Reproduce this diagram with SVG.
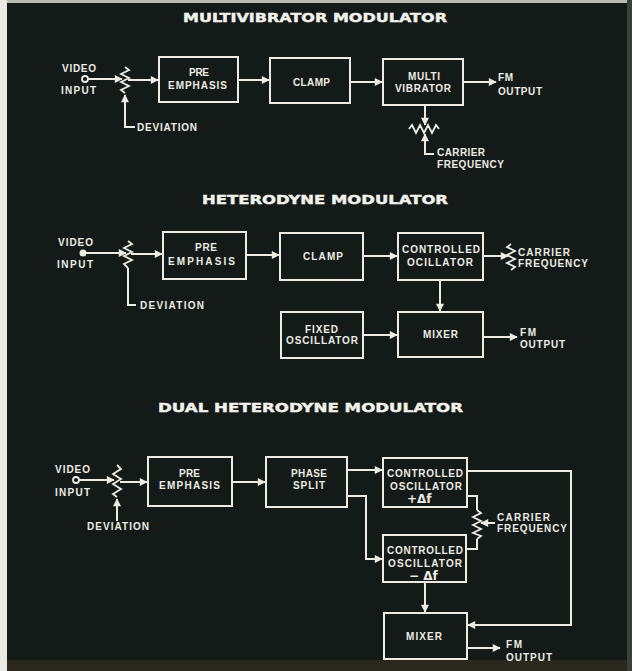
<svg xmlns="http://www.w3.org/2000/svg" width="632" height="671" viewBox="0 0 632 671">
<defs>
<style>
.bg{fill:#141a17}
.box{fill:none;stroke:#ecece4;stroke-width:2}
.ln{fill:none;stroke:#ecece4;stroke-width:2;stroke-linejoin:miter}
.zz{fill:none;stroke:#ecece4;stroke-width:1.8;stroke-linejoin:miter}
.t{font-family:"Liberation Sans",Arial,sans-serif;font-weight:bold;font-size:10px;fill:#ecece4}
.ttl{font-family:"DejaVu Sans","Liberation Sans",sans-serif;font-weight:bold;font-size:11.5px;fill:#f2f2ec;stroke:#f2f2ec;stroke-width:0.4}
.sym{font-family:"DejaVu Sans","Liberation Sans",sans-serif;font-weight:bold;font-size:12px;fill:#ecece4}
</style>
<marker id="ah" viewBox="0 0 10 10" refX="9" refY="5" markerWidth="4.5" markerHeight="4" orient="auto" markerUnits="strokeWidth">
<path d="M0,0 L10,5 L0,10 z" fill="#ecece4"/>
</marker>
</defs>
<rect class="bg" x="0" y="0" width="632" height="671"/>
<rect x="0" y="0" width="632" height="3" fill="#b8bab4"/>
<rect x="0" y="0" width="7" height="671" fill="#e8e8e4"/>
<rect x="627" y="0" width="5" height="671" fill="#3a403a"/>
<rect x="7" y="660" width="620" height="11" fill="#2a281c"/>

<!-- Titles -->
<text class="ttl" x="183" y="22" textLength="264" lengthAdjust="spacingAndGlyphs">MULTIVIBRATOR MODULATOR</text>
<text class="ttl" x="202" y="204" textLength="246" lengthAdjust="spacingAndGlyphs">HETERODYNE MODULATOR</text>
<text class="ttl" x="158" y="412" textLength="305" lengthAdjust="spacingAndGlyphs">DUAL HETERODYNE MODULATOR</text>

<!-- ===== Multivibrator modulator ===== -->
<g id="mv-input">
<text class="t" x="62" y="71.5" textLength="34">VIDEO</text>
<text class="t" x="61" y="94" textLength="35">INPUT</text>
<circle cx="85" cy="79" r="3" fill="none" stroke="#ecece4" stroke-width="1.8"/>
</g>
<g id="mv-deviation">
<polyline class="zz" points="125,67 129,70 121,74 129,78 121,82 129,86 121,90 125,93"/>
<text class="t" x="137" y="131" textLength="60">DEVIATION</text>
</g>
<g id="mv-pre">
<rect class="box" x="159" y="57" width="79" height="45"/>
<text class="t" x="189" y="76" textLength="20">PRE</text>
<text class="t" x="168" y="89" textLength="59">EMPHASIS</text>
</g>
<g id="mv-clamp">
<rect class="box" x="270" y="58" width="80" height="45"/>
<text class="t" x="293" y="86" textLength="37">CLAMP</text>
</g>
<g id="mv-multi">
<rect class="box" x="383" y="59" width="80" height="46"/>
<text class="t" x="408" y="80" textLength="32">MULTI</text>
<text class="t" x="395" y="91.5" textLength="56">VIBRATOR</text>
</g>
<g id="mv-out">
<text class="t" x="498" y="81" textLength="15">FM</text>
<text class="t" x="498" y="95" textLength="44">OUTPUT</text>
</g>
<g id="mv-carrier">
<polyline class="zz" points="409,129 412,125 416,133 420,125 424,133 428,125 432,133 436,125 439,129"/>
<text class="t" x="437" y="156" textLength="48">CARRIER</text>
<text class="t" x="437" y="168" textLength="67">FREQUENCY</text>
</g>

<!-- ===== Heterodyne modulator ===== -->
<g id="ht-input">
<text class="t" x="58" y="246" textLength="35">VIDEO</text>
<text class="t" x="57" y="268" textLength="36">INPUT</text>
<circle cx="83" cy="253" r="3.5" fill="#ecece4"/>
</g>
<g id="ht-deviation">
<polyline class="zz" points="128,241 132,244 124,248 132,252 124,256 132,260 124,264 128,268"/>
<text class="t" x="140" y="309" textLength="64">DEVIATION</text>
</g>
<g id="ht-pre">
<rect class="box" x="163" y="232" width="83" height="47"/>
<text class="t" x="195" y="251" textLength="22">PRE</text>
<text class="t" x="168" y="265" textLength="67">EMPHASIS</text>
</g>
<g id="ht-clamp">
<rect class="box" x="280" y="233" width="83" height="47"/>
<text class="t" x="303" y="260" textLength="40">CLAMP</text>
</g>
<g id="ht-ctrl">
<rect class="box" x="398" y="233" width="85" height="47"/>
<text class="t" x="402" y="253" textLength="78">CONTROLLED</text>
<text class="t" x="407" y="266" textLength="66">OCILLATOR</text>
</g>
<g id="ht-carrier">
<polyline class="zz" points="511,244 507,247 515,251 507,255 515,259 507,263 515,267 511,270"/>
<text class="t" x="518" y="256" textLength="52">CARRIER</text>
<text class="t" x="518" y="267" textLength="70">FREQUENCY</text>
</g>
<g id="ht-fixed">
<rect class="box" x="281" y="312" width="82" height="46"/>
<text class="t" x="305" y="333" textLength="33">FIXED</text>
<text class="t" x="286" y="344" textLength="72">OSCILLATOR</text>
</g>
<g id="ht-mixer">
<rect class="box" x="398" y="312" width="85" height="45"/>
<text class="t" x="423" y="338" textLength="35">MIXER</text>
</g>
<g id="ht-out">
<text class="t" x="520" y="336" textLength="16">FM</text>
<text class="t" x="520" y="348" textLength="45">OUTPUT</text>
</g>

<!-- ===== Dual heterodyne modulator ===== -->
<g id="dh-input">
<text class="t" x="55" y="473" textLength="35">VIDEO</text>
<text class="t" x="55" y="496" textLength="35">INPUT</text>
<circle cx="76" cy="480" r="3" fill="none" stroke="#ecece4" stroke-width="1.8"/>
</g>
<g id="dh-deviation">
<polyline class="zz" points="117,465 121,469 113,474 121,479 113,484 121,489 113,494 117,497"/>
<text class="t" x="87" y="530" textLength="62">DEVIATION</text>
</g>
<g id="dh-pre">
<rect class="box" x="148" y="457" width="84" height="49"/>
<text class="t" x="179" y="477" textLength="21">PRE</text>
<text class="t" x="159" y="489" textLength="61">EMPHASIS</text>
</g>
<g id="dh-phase">
<rect class="box" x="266" y="457" width="81" height="50"/>
<text class="t" x="291" y="477" textLength="36">PHASE</text>
<text class="t" x="293" y="489" textLength="32">SPLIT</text>
</g>
<g id="dh-oscp">
<rect class="box" x="383" y="458" width="84" height="49"/>
<text class="t" x="387" y="477" textLength="76">CONTROLLED</text>
<text class="t" x="390" y="490" textLength="72">OSCILLATOR</text>
<text class="sym" x="407" y="502.5">+Δf</text>
</g>
<g id="dh-oscm">
<rect class="box" x="383" y="535" width="83" height="47"/>
<text class="t" x="387" y="554" textLength="76">CONTROLLED</text>
<text class="t" x="388" y="567" textLength="74">OSCILLATOR</text>
<text class="sym" x="409" y="579.5">− Δf</text>
</g>
<g id="dh-carrier">
<polyline class="zz" points="477,510 481,513 473,517 481,521 473,525 481,529 473,533 481,536 477,539"/>
<text class="t" x="497" y="521" textLength="53">CARRIER</text>
<text class="t" x="497" y="532" textLength="70">FREQUENCY</text>
</g>
<g id="dh-mixer">
<rect class="box" x="384" y="613" width="83" height="46"/>
<text class="t" x="406" y="640" textLength="36">MIXER</text>
</g>
<g id="dh-out">
<text class="t" x="506" y="648" textLength="16">FM</text>
<text class="t" x="506" y="661" textLength="46">OUTPUT</text>
</g>

<!-- ===== Connectors ===== -->
<g id="connectors">
<!-- multivibrator -->
<line class="ln" x1="88" y1="79" x2="122" y2="79" marker-end="url(#ah)"/>
<line class="ln" x1="128" y1="80" x2="158" y2="80" marker-end="url(#ah)"/>
<polyline class="ln" points="135,127 125,127 125,95" marker-end="url(#ah)"/>
<line class="ln" x1="238" y1="80" x2="269" y2="80" marker-end="url(#ah)"/>
<line class="ln" x1="350" y1="82" x2="382" y2="82" marker-end="url(#ah)"/>
<line class="ln" x1="463" y1="82" x2="496" y2="82" marker-end="url(#ah)"/>
<line class="ln" x1="425" y1="105" x2="425" y2="125" marker-end="url(#ah)"/>
<polyline class="ln" points="434,154 425,154 425,134" marker-end="url(#ah)"/>
<!-- heterodyne -->
<line class="ln" x1="86" y1="253" x2="126" y2="253" marker-end="url(#ah)"/>
<line class="ln" x1="131" y1="254" x2="162" y2="254" marker-end="url(#ah)"/>
<polyline class="ln" points="128,268 128,305 136,305"/>
<line class="ln" x1="246" y1="255" x2="279" y2="255" marker-end="url(#ah)"/>
<line class="ln" x1="363" y1="256" x2="397" y2="256" marker-end="url(#ah)"/>
<line class="ln" x1="483" y1="256" x2="508" y2="256" marker-end="url(#ah)"/>
<line class="ln" x1="440" y1="280" x2="440" y2="311" marker-end="url(#ah)"/>
<line class="ln" x1="363" y1="335" x2="397" y2="335" marker-end="url(#ah)"/>
<line class="ln" x1="483" y1="337" x2="517" y2="337" marker-end="url(#ah)"/>
<!-- dual heterodyne -->
<line class="ln" x1="79" y1="480" x2="114" y2="480" marker-end="url(#ah)"/>
<line class="ln" x1="120" y1="482" x2="147" y2="482" marker-end="url(#ah)"/>
<line class="ln" x1="117" y1="521" x2="117" y2="499" marker-end="url(#ah)"/>
<line class="ln" x1="232" y1="482" x2="265" y2="482" marker-end="url(#ah)"/>
<line class="ln" x1="347" y1="470" x2="382" y2="470" marker-end="url(#ah)"/>
<polyline class="ln" points="347,496 366,496 366,559 382,559" marker-end="url(#ah)"/>
<polyline class="ln" points="467,471 571,471 571,625 468,625" marker-end="url(#ah)"/>
<polyline class="ln" points="467,496 477,496 477,510"/>
<polyline class="ln" points="477,539 477,549 466,549"/>
<line class="ln" x1="495" y1="523" x2="481" y2="523" marker-end="url(#ah)"/>
<line class="ln" x1="425" y1="582" x2="425" y2="612" marker-end="url(#ah)"/>
<line class="ln" x1="467" y1="648" x2="500" y2="648" marker-end="url(#ah)"/>
</g>
</svg>
